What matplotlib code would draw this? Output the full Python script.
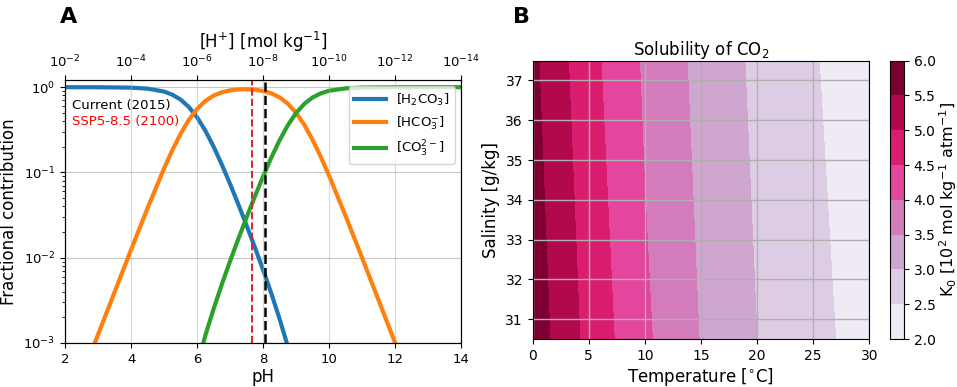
import numpy as np
import matplotlib
matplotlib.use("Agg")
import matplotlib.pyplot as plt

# --- panel A: carbonate speciation (fractions) ---
ph = [2, 3, 4, 4.5, 5, 5.25, 5.5, 5.75, 6, 6.25, 6.5, 6.75, 7, 7.25, 7.5,
      7.75, 8, 8.25, 8.5, 8.75, 9, 9.25, 9.5, 9.75, 10, 10.5, 11, 12, 13, 14]
frac_h2co3 = [0.9999, 0.9987, 0.9876, 0.9617, 0.8882, 0.8171, 0.7152, 0.5854,
              0.4424, 0.3084, 0.2003, 0.1232, 0.0729, 0.0420, 0.0238, 0.0132,
              0.00717, 0.00378, 0.00190, 0.000903, 0.000397, 0.000161,
              6.04e-5, 2.13e-5, 7.22e-6, 7.7e-7, 7.9e-8, 7.9e-10, 7.9e-12, 7.9e-14]
frac_hco3 = [1.26e-4, 1.26e-3, 0.01243, 0.03829, 0.1118, 0.1829, 0.2847, 0.4144,
             0.5570, 0.6904, 0.7972, 0.8719, 0.9179, 0.9412, 0.9463, 0.9343,
             0.9026, 0.8458, 0.7583, 0.6395, 0.4998, 0.3599, 0.2402, 0.1510,
             0.0909, 0.03065, 0.0099, 9.99e-4, 1.0e-4, 1.0e-5]
frac_co3 = [1.26e-11, 1.26e-9, 1.24e-7, 1.21e-6, 1.12e-5, 3.25e-5, 9.0e-5, 2.33e-4,
            5.57e-4, 1.23e-3, 2.52e-3, 4.90e-3, 9.18e-3, 0.01674, 0.02993, 0.05254,
            0.09026, 0.1504, 0.2398, 0.3596, 0.4998, 0.6400, 0.7597, 0.8490,
            0.9091, 0.9694, 0.9901, 0.9990, 0.9999, 0.99999]
ph_current = 8.05
ph_ssp585 = 7.65

# --- panel B: K0 solubility (x100) ---
temperature = [0, 5, 10, 15, 20, 25, 30]
salinity = [30.5, 37.5]
k0_s305 = [5.80, 4.85, 4.08, 3.48, 3.00, 2.64, 2.29]
k0_s375 = [5.60, 4.66, 3.93, 3.36, 2.90, 2.54, 2.17]
k0_levels = [2.0, 2.5, 3.0, 3.5, 4.0, 4.5, 5.0, 5.5, 6.0]

fig = plt.figure(figsize=(9.57, 3.87), dpi=100)

ax = fig.add_axes([0.068, 0.1137, 0.414, 0.680])
ax.plot(ph, frac_h2co3, color="tab:blue", lw=3)
ax.plot(ph, frac_hco3, color="tab:orange", lw=3)
ax.plot(ph, frac_co3, color="tab:green", lw=3)
ax.axvline(ph_current, color="black", ls="--", lw=1.8)
ax.axvline(ph_ssp585, color="tab:red", ls="--", lw=1.4)
ax.set_yscale("log")
ax.set_xlim(2, 14)
ax.set_ylim(1e-3, 1.22)
ax.set_xlabel("pH", fontsize=12, labelpad=2)
ax.set_ylabel("Fractional contribution", fontsize=12)
ax.tick_params(labelsize=9.5)
ax.grid(True, axis="y", color="#b0b0b0", alpha=0.7)
ax.text(0.018, 0.89, "Current (2015)", transform=ax.transAxes, fontsize=9.5)
ax.text(0.018, 0.83, "SSP5-8.5 (2100)", transform=ax.transAxes, fontsize=9.5, color="red")

ax2 = ax.twiny()
ax2.set_xscale("log")
ax2.set_xlim(1e-2, 1e-14)
ax2.set_xticks(10.0 ** np.arange(-2, -15, -2))
ax2.xaxis.set_minor_locator(matplotlib.ticker.NullLocator())
ax2.tick_params(labelsize=9.5)
ax2.set_xlabel("[H$^{+}$] [mol kg$^{-1}$]", fontsize=12)
ax2.grid(True, axis="x", color="#b0b0b0", alpha=0.5)
handles = ax.get_lines()[:3]
ax2.legend(handles, ["[H$_2$CO$_3$]", "[HCO$_3^{-}$]", "[CO$_3^{2-}$]"],
           loc="upper right", fontsize=9.5, handlelength=2.4)

# --- panel B ---
axr = fig.add_axes([0.5566, 0.1240, 0.3517, 0.7194])
cs = axr.contourf(temperature, salinity, np.array([k0_s305, k0_s375]),
                  levels=k0_levels, cmap="PuRd", vmin=2, vmax=6)
axr.set_xlim(0, 30)
axr.set_ylim(30.5, 37.5)
axr.set_xticks([0, 5, 10, 15, 20, 25, 30])
axr.set_yticks([31, 32, 33, 34, 35, 36, 37])
axr.grid(True, color="#b0b0b0", lw=1)
axr.tick_params(labelsize=10)
axr.set_xlabel("Temperature [$^{\\circ}$C]", fontsize=12, labelpad=2)
axr.set_ylabel("Salinity [g/kg]", fontsize=12)
axr.set_title("Solubility of CO$_2$", fontsize=12, pad=4)

cax = fig.add_axes([0.930, 0.1240, 0.0145, 0.7194])
cb = fig.colorbar(cs, cax=cax, ticks=k0_levels)
cb.ax.tick_params(labelsize=10)
cb.set_label("K$_0$ [10$^2$ mol kg$^{-1}$ atm$^{-1}$]", fontsize=11.5, labelpad=1)

fig.text(0.0627, 0.94, "A", fontsize=16, fontweight="bold")
fig.text(0.536, 0.94, "B", fontsize=16, fontweight="bold")

fig.savefig("out.png", dpi=100)
